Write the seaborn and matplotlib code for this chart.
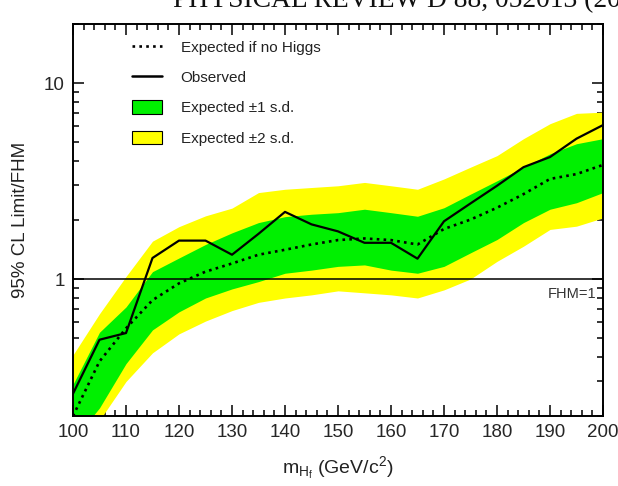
import numpy as np
import pandas as pd
import matplotlib
matplotlib.use("Agg")
import matplotlib.pyplot as plt
import seaborn as sns
from matplotlib.lines import Line2D
from matplotlib.patches import Patch
from matplotlib.ticker import FixedLocator, FixedFormatter, LogLocator, MultipleLocator, NullFormatter

# ---- data ----
mass = [100, 105, 110, 115, 120, 125, 130, 135, 140, 145, 150,
        155, 160, 165, 170, 175, 180, 185, 190, 195, 200]
observed = [0.26, 0.49, 0.53, 1.28, 1.57, 1.57, 1.33, 1.70, 2.20, 1.90, 1.75,
            1.53, 1.53, 1.27, 1.97, 2.43, 2.99, 3.72, 4.19, 5.20, 6.10]
expected = [0.20, 0.38, 0.56, 0.78, 0.95, 1.09, 1.20, 1.33, 1.41, 1.50, 1.58,
            1.61, 1.58, 1.50, 1.80, 2.01, 2.31, 2.71, 3.24, 3.43, 3.82]
one_sd_hi = [0.29, 0.535, 0.72, 1.09, 1.28, 1.50, 1.72, 1.94, 2.08, 2.14, 2.18,
             2.27, 2.18, 2.09, 2.31, 2.71, 3.17, 3.72, 4.35, 4.90, 5.20]
one_sd_lo = [0.15, 0.22, 0.37, 0.55, 0.68, 0.80, 0.89, 0.97, 1.07, 1.11, 1.16,
             1.18, 1.11, 1.07, 1.16, 1.36, 1.59, 1.94, 2.27, 2.45, 2.76]
two_sd_hi = [0.41, 0.665, 1.03, 1.56, 1.85, 2.10, 2.30, 2.76, 2.87, 2.93, 2.99,
             3.11, 2.99, 2.87, 3.24, 3.72, 4.26, 5.20, 6.20, 7.00, 7.10]
two_sd_lo = [0.12, 0.19, 0.30, 0.42, 0.525, 0.61, 0.69, 0.76, 0.80, 0.83, 0.87,
             0.85, 0.83, 0.80, 0.88, 1.00, 1.23, 1.47, 1.79, 1.86, 2.05]

x_ticks = [100, 110, 120, 130, 140, 150, 160, 170, 180, 190, 200]
y_ticks = [1, 10]
y_tick_labels = ["1", "10"]
legend_labels = ["Expected if no Higgs", "Observed",
                 "Expected \u00b11 s.d.", "Expected \u00b12 s.d."]

df = pd.DataFrame({"mass": mass, "observed": observed, "expected": expected,
                   "g_hi": one_sd_hi, "g_lo": one_sd_lo,
                   "y_hi": two_sd_hi, "y_lo": two_sd_lo})

sns.set_style("ticks")
plt.rcParams["font.family"] = ["Liberation Sans", "DejaVu Sans"]
plt.rcParams["mathtext.fontset"] = "custom"
plt.rcParams["mathtext.rm"] = "Liberation Sans"
plt.rcParams["mathtext.it"] = "Liberation Sans"

fig = plt.figure(figsize=(6.18, 4.86), dpi=100)
ax = fig.add_axes([73 / 618, 1 - 416 / 486, 530 / 618, 392 / 486])

YELLOW = "#ffff00"
GREEN = "#00f000"

ax.fill_between(df["mass"], df["y_lo"], df["y_hi"], color=YELLOW, lw=0, zorder=1)
ax.fill_between(df["mass"], df["g_lo"], df["g_hi"], color=GREEN, lw=0, zorder=2)
sns.lineplot(data=df, x="mass", y="expected", ax=ax, color="black",
             lw=1.9, linestyle=(0, (1, 1.6)), zorder=4)
sns.lineplot(data=df, x="mass", y="observed", ax=ax, color="black",
             lw=1.6, zorder=5)
ax.axhline(1, color="black", lw=1.1, zorder=6)

ax.set_yscale("log")
ax.set_xlim(100, 200)
ax.set_ylim(0.2, 20)

ax.xaxis.set_major_locator(FixedLocator(x_ticks))
ax.xaxis.set_minor_locator(MultipleLocator(2))
ax.yaxis.set_major_locator(FixedLocator(y_ticks))
ax.yaxis.set_major_formatter(FixedFormatter(y_tick_labels))
ax.yaxis.set_minor_locator(LogLocator(base=10, subs=np.arange(2, 10)))
ax.yaxis.set_minor_formatter(NullFormatter())

ax.tick_params(which="both", direction="in", top=True, right=True,
               width=1.1, color="black", labelsize=13.5, pad=6)
ax.tick_params(which="major", length=8)
ax.tick_params(which="minor", length=4)
for s in ax.spines.values():
    s.set_linewidth(1.4)
    s.set_color("black")
    s.set_zorder(10)

ax.set_xlabel(r"m$_{\mathrm{H}_{f}}$ (GeV/c$^2$)", fontsize=14, color="#222222")
ax.set_ylabel("95% CL Limit/FHM", fontsize=13.5, color="#222222")
ax.xaxis.set_label_coords(0.5, (416 - 467) / 392)
ax.xaxis.label.set_va("center")
ax.yaxis.set_label_coords((21 - 73) / 530, 0.5)
ax.yaxis.label.set_va("center")

# FHM=1 label just under the reference line, right-aligned
fig.text(596 / 618, 1 - 287 / 486, "FHM=1", fontsize=10.5, ha="right",
         va="top", color="#333333")

handles = [Line2D([], [], color="black", lw=1.9, linestyle=(0, (1, 1.6))),
           Line2D([], [], color="black", lw=1.8),
           Patch(facecolor=GREEN, edgecolor="black", lw=0.8),
           Patch(facecolor=YELLOW, edgecolor="black", lw=0.8)]
fig.legend(handles, legend_labels, loc="upper left",
           bbox_to_anchor=(124 / 618, 1 - 32 / 486), frameon=False,
           fontsize=11, borderpad=0, handlelength=2.0, handleheight=1.0,
           handletextpad=1.2, labelspacing=1.0, labelcolor="#222222")

fig.text(173 / 618, 1 - 7.5 / 486, "PHYSICAL REVIEW D 88, 052013 (2013)",
         family="Liberation Serif", fontsize=19.8, va="baseline", ha="left",
         color="#111111")

fig.savefig("out.png", dpi=100)
